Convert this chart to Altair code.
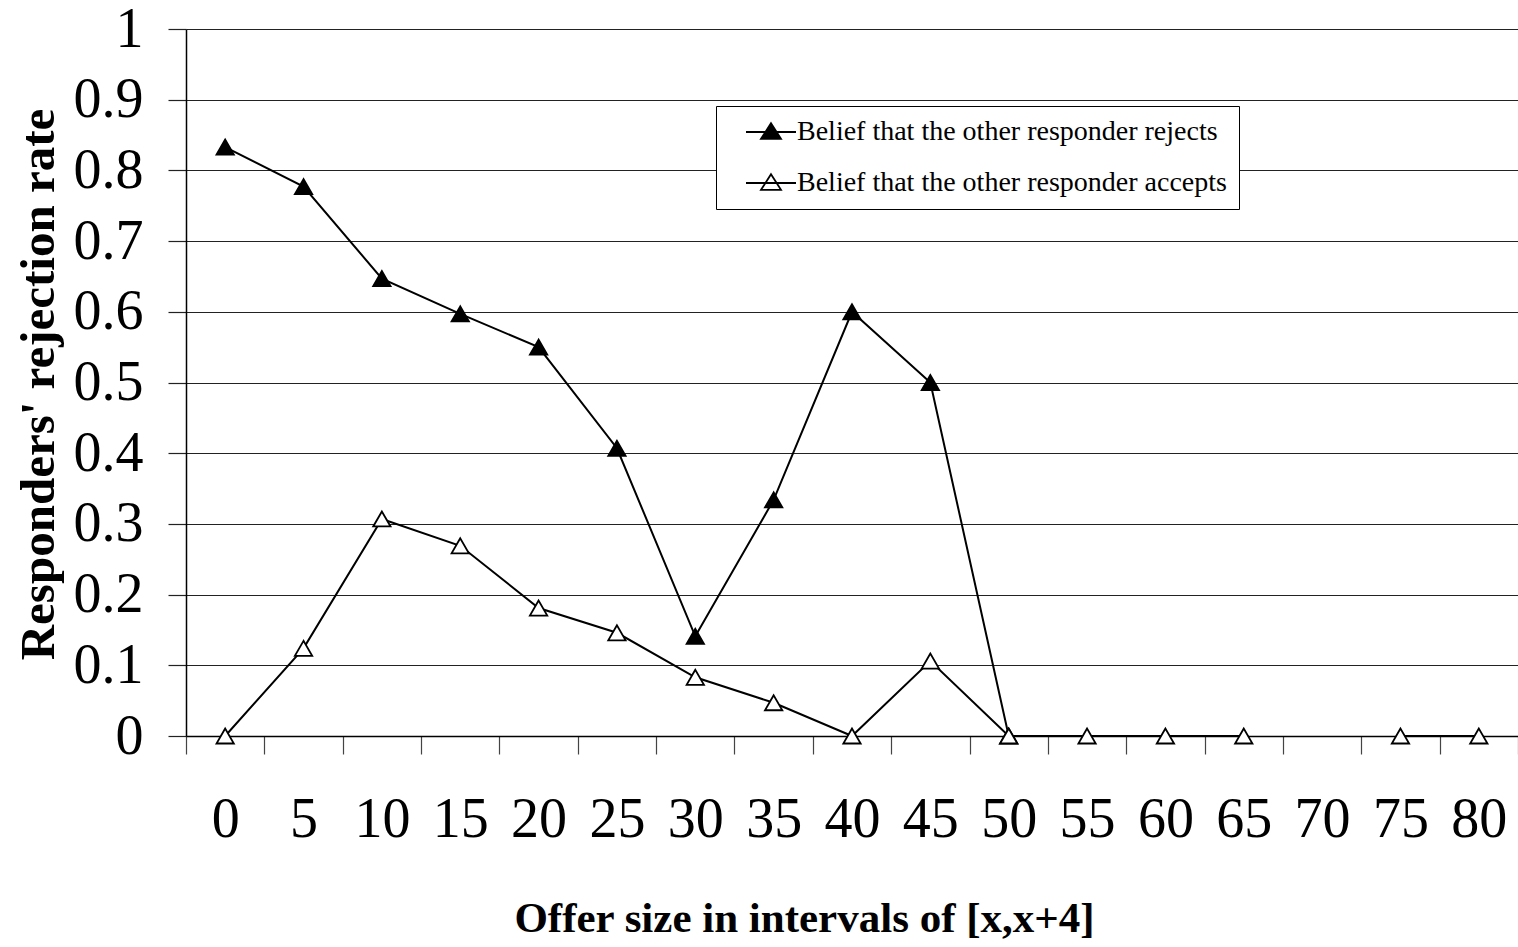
import altair as alt
import pandas as pd

# Offer-size categories (lower bound of each [x, x+4] interval)
offers = ["0", "5", "10", "15", "20", "25", "30", "35", "40",
          "45", "50", "55", "60", "65", "70", "75", "80"]

# Rejection rates per offer interval; None = no observations
rejects = [0.833, 0.777, 0.647, 0.597, 0.550, 0.407, 0.141, 0.334, 0.600,
           0.500, 0.000, None, None, None, None, None, None]
accepts = [0.000, 0.124, 0.307, 0.269, 0.181, 0.146, 0.083, 0.047, 0.000,
           0.106, 0.000, 0.000, 0.000, 0.000, None, 0.000, 0.000]

series_names = ["Belief that the other responder rejects",
                "Belief that the other responder accepts"]
series_values = [rejects, accepts]
series_fill = ["black", "white"]

y_ticks = [0, 0.1, 0.2, 0.3, 0.4, 0.5, 0.6, 0.7, 0.8, 0.9, 1]

FONT = "Liberation Serif"

# Long table; a new run starts after each gap so lines break there
rows = []
for name, values in zip(series_names, series_values):
    run = 0
    for offer, v in zip(offers, values):
        if v is None:
            run += 1
            continue
        rows.append({"offer": offer, "rate": v, "series": name,
                     "run": f"{name}-{run}"})
df = pd.DataFrame(rows)

x_enc = alt.X(
    "offer:N",
    sort=offers,
    bandPosition=0.5,
    scale=alt.Scale(type="band", domain=offers, paddingInner=0, paddingOuter=0),
    axis=alt.Axis(
        title="Offer size in intervals of [x,x+4]",
        titleFont=FONT, titleFontSize=43, titleFontWeight="bold",
        titleColor="black",
        titleX=618, titleY=182, titleAlign="center", titleBaseline="middle",
        labelFont=FONT, labelFontSize=56, labelColor="black", labelAngle=0,
        labelPadding=38, labelBaseline="top",
        domainColor="black", domainWidth=1.5,
        ticks=True, tickSize=18, tickColor="#444", tickWidth=1.2,
        tickBand="extent", grid=False,
    ),
)

y_enc = alt.Y(
    "rate:Q",
    scale=alt.Scale(domain=[0, 1], nice=False, zero=True),
    axis=alt.Axis(
        title="Responders' rejection rate",
        titleFont=FONT, titleFontSize=49, titleFontWeight="bold",
        titleColor="black",
        titleX=-148, titleY=355, titleAngle=270,
        titleAlign="center", titleBaseline="middle",
        values=y_ticks, format="~g",
        labelFont=FONT, labelFontSize=56, labelColor="black", labelPadding=25,
        domainColor="black", domainWidth=1.5,
        tickSize=18, tickColor="#222", tickWidth=1.2,
        grid=True, gridColor="#222", gridWidth=1.2,
    ),
)

lines = alt.Chart(df).mark_line(color="black", strokeWidth=2).encode(
    x=x_enc, y=y_enc, detail="run:N"
)

points = alt.Chart(df).mark_point(
    shape="triangle-up", size=300, filled=True, stroke="black",
    strokeWidth=1.8, opacity=1,
).encode(
    x=x_enc,
    y=y_enc,
    fill=alt.Fill(
        "series:N",
        sort=series_names,
        scale=alt.Scale(domain=series_names, range=series_fill),
        legend=alt.Legend(
            title=None, orient="none", legendX=530, legendY=77,
            fillColor="white", strokeColor="black", padding=12,
            symbolType="M-2,0H2M0,-0.7L0.8,0.55L-0.8,0.55Z",
            symbolSize=625, symbolStrokeColor="black", symbolStrokeWidth=1.8,
            symbolOffset=29, labelOffset=12,
            labelFont=FONT, labelFontSize=28, labelColor="black",
            labelLimit=600, rowPadding=23,
        ),
    ),
    order=alt.Order("series:N", sort="descending"),
)

chart = alt.layer(lines, points).properties(
    width=1332, height=707,
    autosize=alt.AutoSizeParams(type="none"),
    padding={"left": 186, "top": 29, "right": 0, "bottom": 211},
    background="white",
).configure_view(stroke="transparent")

chart.save("out.html", embed_options={"renderer": "svg", "actions": False})
